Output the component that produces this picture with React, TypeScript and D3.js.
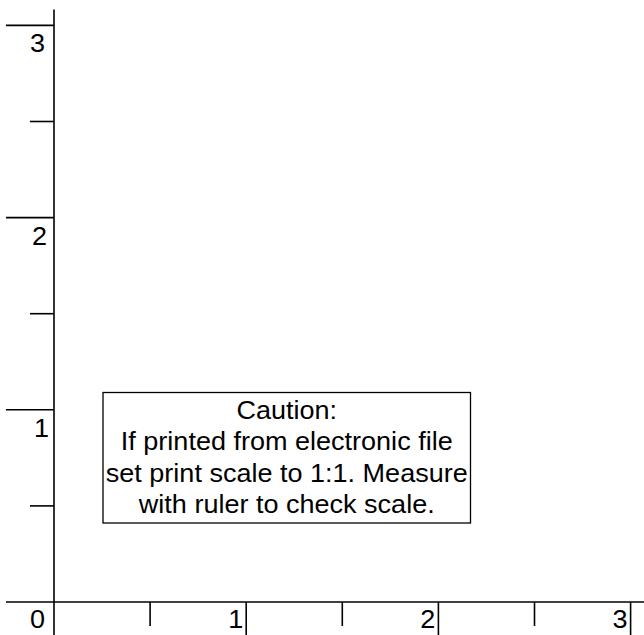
import React from "react";
import * as d3 from "d3";

// ---- data ----
const majorTicks = [0, 1, 2, 3];
const minorTicks = [0.5, 1.5, 2.5];
const xTickLabels = ["0", "1", "2", "3"];
const yTickLabels = ["", "1", "2", "3"];
const cautionLines = [
  "Caution:",
  "If printed from electronic file",
  "set print scale to 1:1. Measure",
  "with ruler to check scale.",
];
const noteBoxX = [0.255, 2.167];
const noteBoxY = [0.411, 1.09];
const axisExtentX = [-0.25, 3.1];
const axisExtentY = [-0.25, 3.083];

const W = 644;
const H = 635;
const FONT = "'Liberation Sans', Arial, sans-serif";
const FS = 25.5;
const SX = 1.06;

export default function App() {
  const x = d3.scaleLinear().domain([0, 1]).range([54, 246.2]);
  const y = d3.scaleLinear().domain([0, 1]).range([602, 409.8]);
  const unit = x(1) - x(0);
  const majorLen = 0.25 * unit;
  const minorLen = 0.125 * unit;
  const stroke = "#000";
  const sw = 1.6;

  const cx = (x(noteBoxX[0]) + x(noteBoxX[1])) / 2;
  const lineGap = 31.5;
  const firstBase = y(noteBoxY[1]) + 26;

  return (
    <div style={{ position: "absolute", left: 0, top: 0 }}>
      <svg width={W} height={H} style={{ display: "block", background: "#fff" }}>
        <rect width={W} height={H} fill="#fff" />
        {/* axes */}
        <line x1={x(0)} x2={x(0)} y1={y(axisExtentY[0])} y2={y(axisExtentY[1])} stroke={stroke} strokeWidth={sw} />
        <line y1={y(0)} y2={y(0)} x1={x(axisExtentX[0])} x2={x(axisExtentX[1])} stroke={stroke} strokeWidth={sw} />
        {/* major ticks */}
        {majorTicks.slice(1).map((t) => (
          <g key={"mx" + t}>
            <line x1={x(t)} x2={x(t)} y1={y(0)} y2={y(0) + majorLen} stroke={stroke} strokeWidth={sw} />
            <line y1={y(t)} y2={y(t)} x1={x(0) - majorLen} x2={x(0)} stroke={stroke} strokeWidth={sw} />
          </g>
        ))}
        {/* minor ticks */}
        {minorTicks.map((t) => (
          <g key={"mn" + t}>
            <line x1={x(t)} x2={x(t)} y1={y(0)} y2={y(0) + minorLen} stroke={stroke} strokeWidth={sw} />
            <line y1={y(t)} y2={y(t)} x1={x(0) - minorLen} x2={x(0)} stroke={stroke} strokeWidth={sw} />
          </g>
        ))}
        {/* x labels */}
        {majorTicks.map((t, i) => (
          <text
            key={"xl" + t}
            transform={`translate(${x(t) - (i === 0 ? 9 : 3)},${y(0) + 26}) scale(${SX},1)`}
            textAnchor="end"
            fontFamily={FONT}
            fontSize={FS}
            fill="#000"
          >
            {xTickLabels[i]}
          </text>
        ))}
        {/* y labels */}
        {majorTicks.map((t, i) =>
          yTickLabels[i] ? (
            <text
              key={"yl" + t}
              transform={`translate(${x(0) - 5 - (t - 1) * 2},${y(t) + 27}) scale(${SX},1)`}
              textAnchor="end"
              fontFamily={FONT}
              fontSize={FS}
              fill="#000"
            >
              {yTickLabels[i]}
            </text>
          ) : null
        )}
        {/* caution box */}
        <rect
          x={x(noteBoxX[0])}
          y={y(noteBoxY[1])}
          width={x(noteBoxX[1]) - x(noteBoxX[0])}
          height={y(noteBoxY[0]) - y(noteBoxY[1])}
          fill="#fff"
          stroke={stroke}
          strokeWidth={1.3}
        />
        {cautionLines.map((s, i) => (
          <text
            key={"c" + i}
            transform={`translate(${cx},${firstBase + i * lineGap}) scale(${SX},1)`}
            textAnchor="middle"
            fontFamily={FONT}
            fontSize={FS}
            fill="#000"
          >
            {s}
          </text>
        ))}
      </svg>
    </div>
  );
}
